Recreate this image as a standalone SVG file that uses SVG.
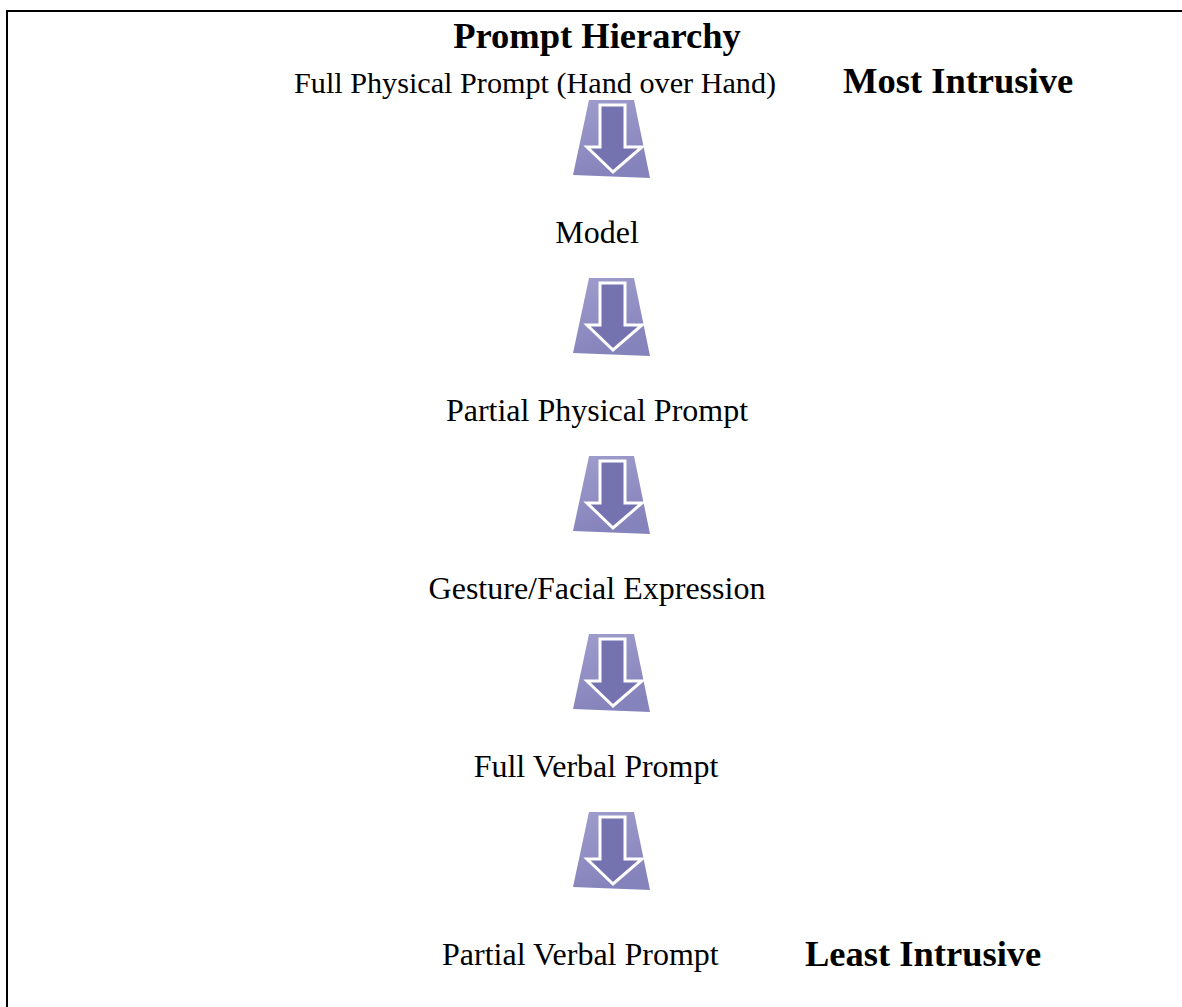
<svg xmlns="http://www.w3.org/2000/svg" width="1182" height="1007" viewBox="0 0 1182 1007">
  <style>
    .t { font-family: "Liberation Serif", "Times New Roman", serif; font-size: 32px; fill: #000; }
    .b { font-family: "Liberation Serif", "Times New Roman", serif; font-size: 36.5px; font-weight: bold; fill: #000; }
    .trap { fill: url(#tg); }
    .arr { fill: #7572b0; stroke: #ffffff; stroke-width: 3; stroke-linejoin: miter; }
  </style>
  <defs>
    <linearGradient id="tg" x1="0" y1="0" x2="0.3" y2="1">
      <stop offset="0" stop-color="#9f9dcc"/>
      <stop offset="1" stop-color="#8583bb"/>
    </linearGradient>
    <g id="down">
      <path class="trap" d="M589,0 L634,0 L650,78 L573,75 Z"/>
      <path class="arr" d="M600,5 L625,5 L625,47 L642,47 L613,72 L587,47 L600,47 Z"/>
    </g>
  </defs>
  <rect width="1182" height="1007" fill="#ffffff"/>
  <g id="frame" fill="none" stroke="#000" stroke-width="2">
    <path d="M7,1007 L7,11 L1182,11"/>
  </g>
  <g id="title"><text class="b" x="597" y="48" text-anchor="middle">Prompt Hierarchy</text></g>
  <g id="node-full-physical"><text class="t" x="294" y="93" style="font-size:30.2px">Full Physical Prompt (Hand over Hand)</text></g>
  <g id="label-most"><text class="b" x="843" y="93">Most Intrusive</text></g>
  <g id="node-model"><text class="t" x="597" y="243" text-anchor="middle">Model</text></g>
  <g id="node-partial-physical"><text class="t" x="597" y="421" text-anchor="middle">Partial Physical Prompt</text></g>
  <g id="node-gesture"><text class="t" x="597" y="599" text-anchor="middle">Gesture/Facial Expression</text></g>
  <g id="node-full-verbal"><text class="t" x="596" y="777" text-anchor="middle">Full Verbal Prompt</text></g>
  <g id="node-partial-verbal"><text class="t" x="442" y="965">Partial Verbal Prompt</text></g>
  <g id="label-least"><text class="b" x="805" y="966">Least Intrusive</text></g>
  <g id="connectors">
    <use href="#down" transform="translate(0,100)"/>
    <use href="#down" transform="translate(0,278)"/>
    <use href="#down" transform="translate(0,456)"/>
    <use href="#down" transform="translate(0,634)"/>
    <use href="#down" transform="translate(0,812)"/>
  </g>
</svg>
